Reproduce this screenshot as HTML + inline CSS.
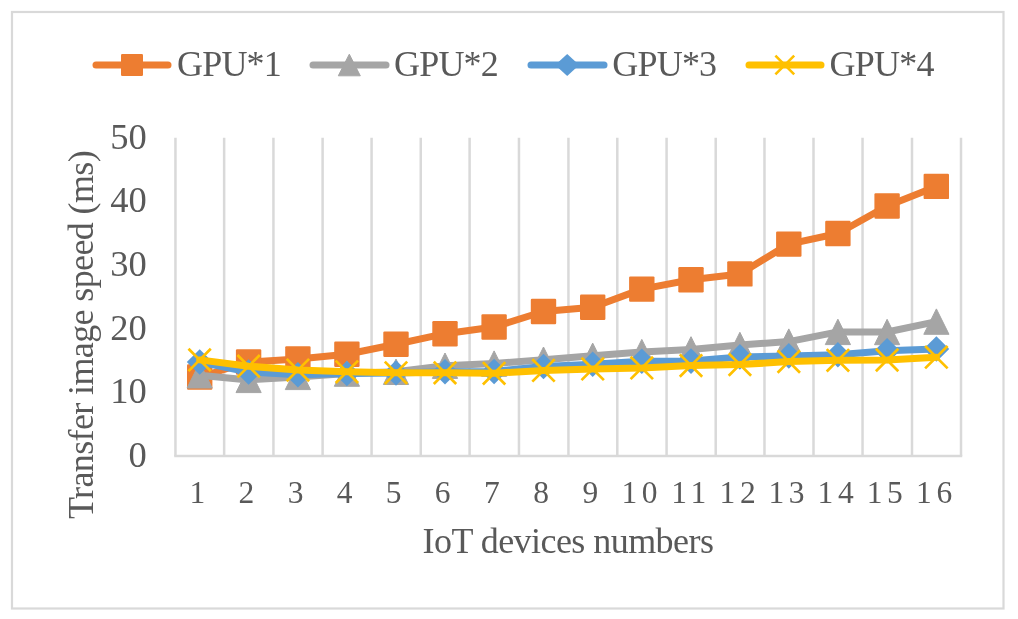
<!DOCTYPE html>
<html><head><meta charset="utf-8"><style>
html,body{margin:0;padding:0;background:#fff;}
svg{display:block;will-change:transform;filter:blur(0.4px);}
</style></head><body>
<svg width="1018" height="619" viewBox="0 0 1018 619">
<rect x="12" y="12" width="991.5" height="596.5" fill="#fff" stroke="#D9D9D9" stroke-width="2.2"/>
<line x1="175.45" y1="137.8" x2="175.45" y2="456" stroke="#D9D9D9" stroke-width="2.5"/>
<line x1="224.15" y1="137.8" x2="224.15" y2="456" stroke="#D9D9D9" stroke-width="2.5"/>
<line x1="273.43" y1="137.8" x2="273.43" y2="456" stroke="#D9D9D9" stroke-width="2.5"/>
<line x1="322.60" y1="137.8" x2="322.60" y2="456" stroke="#D9D9D9" stroke-width="2.5"/>
<line x1="371.58" y1="137.8" x2="371.58" y2="456" stroke="#D9D9D9" stroke-width="2.5"/>
<line x1="420.75" y1="137.8" x2="420.75" y2="456" stroke="#D9D9D9" stroke-width="2.5"/>
<line x1="469.60" y1="137.8" x2="469.60" y2="456" stroke="#D9D9D9" stroke-width="2.5"/>
<line x1="518.96" y1="137.8" x2="518.96" y2="456" stroke="#D9D9D9" stroke-width="2.5"/>
<line x1="568.43" y1="137.8" x2="568.43" y2="456" stroke="#D9D9D9" stroke-width="2.5"/>
<line x1="617.30" y1="137.8" x2="617.30" y2="456" stroke="#D9D9D9" stroke-width="2.5"/>
<line x1="666.58" y1="137.8" x2="666.58" y2="456" stroke="#D9D9D9" stroke-width="2.5"/>
<line x1="715.70" y1="137.8" x2="715.70" y2="456" stroke="#D9D9D9" stroke-width="2.5"/>
<line x1="764.47" y1="137.8" x2="764.47" y2="456" stroke="#D9D9D9" stroke-width="2.5"/>
<line x1="813.50" y1="137.8" x2="813.50" y2="456" stroke="#D9D9D9" stroke-width="2.5"/>
<line x1="862.54" y1="137.8" x2="862.54" y2="456" stroke="#D9D9D9" stroke-width="2.5"/>
<line x1="912.00" y1="137.8" x2="912.00" y2="456" stroke="#D9D9D9" stroke-width="2.5"/>
<line x1="961.00" y1="137.8" x2="961.00" y2="456" stroke="#D9D9D9" stroke-width="2.5"/>
<line x1="174.20" y1="456" x2="962.25" y2="456" stroke="#D9D9D9" stroke-width="2.5"/>
<polyline points="199.7,377.0 248.6,362.0 297.9,359.0 346.9,354.2 396.0,344.2 445.0,333.7 494.1,327.0 543.5,311.5 592.7,307.3 641.8,289.1 691.0,279.7 739.9,273.9 788.8,244.1 837.9,233.5 887.1,206.0 936.4,186.4" fill="none" stroke="#ED7D31" stroke-width="7" stroke-linejoin="round" stroke-linecap="round"/>
<rect x="187.0" y="364.3" width="25.4" height="25.4" rx="1.2" fill="#ED7D31"/>
<rect x="235.9" y="349.3" width="25.4" height="25.4" rx="1.2" fill="#ED7D31"/>
<rect x="285.2" y="346.3" width="25.4" height="25.4" rx="1.2" fill="#ED7D31"/>
<rect x="334.2" y="341.5" width="25.4" height="25.4" rx="1.2" fill="#ED7D31"/>
<rect x="383.3" y="331.5" width="25.4" height="25.4" rx="1.2" fill="#ED7D31"/>
<rect x="432.3" y="321.0" width="25.4" height="25.4" rx="1.2" fill="#ED7D31"/>
<rect x="481.4" y="314.3" width="25.4" height="25.4" rx="1.2" fill="#ED7D31"/>
<rect x="530.8" y="298.8" width="25.4" height="25.4" rx="1.2" fill="#ED7D31"/>
<rect x="580.0" y="294.6" width="25.4" height="25.4" rx="1.2" fill="#ED7D31"/>
<rect x="629.1" y="276.4" width="25.4" height="25.4" rx="1.2" fill="#ED7D31"/>
<rect x="678.3" y="267.0" width="25.4" height="25.4" rx="1.2" fill="#ED7D31"/>
<rect x="727.2" y="261.2" width="25.4" height="25.4" rx="1.2" fill="#ED7D31"/>
<rect x="776.1" y="231.4" width="25.4" height="25.4" rx="1.2" fill="#ED7D31"/>
<rect x="825.2" y="220.8" width="25.4" height="25.4" rx="1.2" fill="#ED7D31"/>
<rect x="874.4" y="193.3" width="25.4" height="25.4" rx="1.2" fill="#ED7D31"/>
<rect x="923.6" y="173.7" width="25.4" height="25.4" rx="1.2" fill="#ED7D31"/>
<polyline points="199.7,375.3 248.6,379.9 297.9,376.9 346.9,373.6 396.0,371.8 445.0,365.7 494.1,363.6 543.5,359.7 592.7,355.8 641.8,352.1 691.0,349.4 739.9,345.0 788.8,341.6 837.9,331.9 887.1,332.0 936.4,321.6" fill="none" stroke="#A5A5A5" stroke-width="7" stroke-linejoin="round" stroke-linecap="round"/>
<path d="M199.7,362.6 L212.2,388.0 L187.1,388.0 Z" fill="#A5A5A5" stroke="#A5A5A5" stroke-width="1" stroke-linejoin="round"/>
<path d="M248.6,367.2 L261.2,392.6 L236.0,392.6 Z" fill="#A5A5A5" stroke="#A5A5A5" stroke-width="1" stroke-linejoin="round"/>
<path d="M297.9,364.2 L310.5,389.6 L285.3,389.6 Z" fill="#A5A5A5" stroke="#A5A5A5" stroke-width="1" stroke-linejoin="round"/>
<path d="M346.9,360.9 L359.5,386.3 L334.3,386.3 Z" fill="#A5A5A5" stroke="#A5A5A5" stroke-width="1" stroke-linejoin="round"/>
<path d="M396.0,359.1 L408.6,384.5 L383.4,384.5 Z" fill="#A5A5A5" stroke="#A5A5A5" stroke-width="1" stroke-linejoin="round"/>
<path d="M445.0,353.0 L457.6,378.4 L432.4,378.4 Z" fill="#A5A5A5" stroke="#A5A5A5" stroke-width="1" stroke-linejoin="round"/>
<path d="M494.1,350.9 L506.7,376.3 L481.5,376.3 Z" fill="#A5A5A5" stroke="#A5A5A5" stroke-width="1" stroke-linejoin="round"/>
<path d="M543.5,347.0 L556.1,372.4 L530.9,372.4 Z" fill="#A5A5A5" stroke="#A5A5A5" stroke-width="1" stroke-linejoin="round"/>
<path d="M592.7,343.1 L605.3,368.5 L580.1,368.5 Z" fill="#A5A5A5" stroke="#A5A5A5" stroke-width="1" stroke-linejoin="round"/>
<path d="M641.8,339.4 L654.4,364.8 L629.2,364.8 Z" fill="#A5A5A5" stroke="#A5A5A5" stroke-width="1" stroke-linejoin="round"/>
<path d="M691.0,336.7 L703.6,362.1 L678.4,362.1 Z" fill="#A5A5A5" stroke="#A5A5A5" stroke-width="1" stroke-linejoin="round"/>
<path d="M739.9,332.3 L752.5,357.7 L727.3,357.7 Z" fill="#A5A5A5" stroke="#A5A5A5" stroke-width="1" stroke-linejoin="round"/>
<path d="M788.8,328.9 L801.4,354.3 L776.2,354.3 Z" fill="#A5A5A5" stroke="#A5A5A5" stroke-width="1" stroke-linejoin="round"/>
<path d="M837.9,319.2 L850.5,344.6 L825.3,344.6 Z" fill="#A5A5A5" stroke="#A5A5A5" stroke-width="1" stroke-linejoin="round"/>
<path d="M887.1,319.3 L899.7,344.7 L874.5,344.7 Z" fill="#A5A5A5" stroke="#A5A5A5" stroke-width="1" stroke-linejoin="round"/>
<path d="M936.4,308.9 L949.0,334.3 L923.8,334.3 Z" fill="#A5A5A5" stroke="#A5A5A5" stroke-width="1" stroke-linejoin="round"/>
<polyline points="199.7,362.0 248.6,372.0 297.9,374.8 346.9,373.5 396.0,373.0 445.0,371.8 494.1,371.5 543.5,366.5 592.7,364.2 641.8,361.3 691.0,361.1 739.9,356.9 788.8,355.9 837.9,354.8 887.1,350.7 936.4,349.0" fill="none" stroke="#5B9BD5" stroke-width="7" stroke-linejoin="round" stroke-linecap="round"/>
<path d="M199.7,349.2 L212.5,362.0 L199.7,374.8 L186.8,362.0 Z" fill="#5B9BD5"/>
<path d="M248.6,359.2 L261.5,372.0 L248.6,384.8 L235.8,372.0 Z" fill="#5B9BD5"/>
<path d="M297.9,362.0 L310.7,374.8 L297.9,387.6 L285.0,374.8 Z" fill="#5B9BD5"/>
<path d="M346.9,360.7 L359.8,373.5 L346.9,386.3 L334.1,373.5 Z" fill="#5B9BD5"/>
<path d="M396.0,360.2 L408.9,373.0 L396.0,385.8 L383.2,373.0 Z" fill="#5B9BD5"/>
<path d="M445.0,359.0 L457.9,371.8 L445.0,384.6 L432.2,371.8 Z" fill="#5B9BD5"/>
<path d="M494.1,358.7 L507.0,371.5 L494.1,384.3 L481.3,371.5 Z" fill="#5B9BD5"/>
<path d="M543.5,353.7 L556.4,366.5 L543.5,379.3 L530.7,366.5 Z" fill="#5B9BD5"/>
<path d="M592.7,351.4 L605.6,364.2 L592.7,377.0 L579.9,364.2 Z" fill="#5B9BD5"/>
<path d="M641.8,348.5 L654.6,361.3 L641.8,374.1 L628.9,361.3 Z" fill="#5B9BD5"/>
<path d="M691.0,348.3 L703.8,361.1 L691.0,373.9 L678.1,361.1 Z" fill="#5B9BD5"/>
<path d="M739.9,344.1 L752.8,356.9 L739.9,369.7 L727.1,356.9 Z" fill="#5B9BD5"/>
<path d="M788.8,343.1 L801.7,355.9 L788.8,368.7 L776.0,355.9 Z" fill="#5B9BD5"/>
<path d="M837.9,342.0 L850.7,354.8 L837.9,367.6 L825.0,354.8 Z" fill="#5B9BD5"/>
<path d="M887.1,337.9 L900.0,350.7 L887.1,363.5 L874.3,350.7 Z" fill="#5B9BD5"/>
<path d="M936.4,336.2 L949.2,349.0 L936.4,361.8 L923.5,349.0 Z" fill="#5B9BD5"/>
<polyline points="199.7,359.9 248.6,366.2 297.9,370.1 346.9,371.8 396.0,372.8 445.0,372.8 494.1,373.3 543.5,370.4 592.7,368.9 641.8,367.9 691.0,365.6 739.9,364.6 788.8,361.6 837.9,360.3 887.1,360.0 936.4,357.2" fill="none" stroke="#FFC000" stroke-width="7" stroke-linejoin="round" stroke-linecap="round"/>
<path d="M188.5,348.7 L210.8,371.1 M210.8,348.7 L188.5,371.1" stroke="#FFC000" stroke-width="2.7" fill="none"/>
<path d="M237.4,355.0 L259.8,377.4 M259.8,355.0 L237.4,377.4" stroke="#FFC000" stroke-width="2.7" fill="none"/>
<path d="M286.7,358.9 L309.1,381.3 M309.1,358.9 L286.7,381.3" stroke="#FFC000" stroke-width="2.7" fill="none"/>
<path d="M335.7,360.6 L358.1,383.0 M358.1,360.6 L335.7,383.0" stroke="#FFC000" stroke-width="2.7" fill="none"/>
<path d="M384.8,361.6 L407.2,384.0 M407.2,361.6 L384.8,384.0" stroke="#FFC000" stroke-width="2.7" fill="none"/>
<path d="M433.8,361.6 L456.2,384.0 M456.2,361.6 L433.8,384.0" stroke="#FFC000" stroke-width="2.7" fill="none"/>
<path d="M482.9,362.1 L505.3,384.5 M505.3,362.1 L482.9,384.5" stroke="#FFC000" stroke-width="2.7" fill="none"/>
<path d="M532.3,359.2 L554.7,381.6 M554.7,359.2 L532.3,381.6" stroke="#FFC000" stroke-width="2.7" fill="none"/>
<path d="M581.5,357.7 L603.9,380.1 M603.9,357.7 L581.5,380.1" stroke="#FFC000" stroke-width="2.7" fill="none"/>
<path d="M630.6,356.7 L653.0,379.1 M653.0,356.7 L630.6,379.1" stroke="#FFC000" stroke-width="2.7" fill="none"/>
<path d="M679.8,354.4 L702.2,376.8 M702.2,354.4 L679.8,376.8" stroke="#FFC000" stroke-width="2.7" fill="none"/>
<path d="M728.7,353.4 L751.1,375.8 M751.1,353.4 L728.7,375.8" stroke="#FFC000" stroke-width="2.7" fill="none"/>
<path d="M777.6,350.4 L800.0,372.8 M800.0,350.4 L777.6,372.8" stroke="#FFC000" stroke-width="2.7" fill="none"/>
<path d="M826.7,349.1 L849.1,371.5 M849.1,349.1 L826.7,371.5" stroke="#FFC000" stroke-width="2.7" fill="none"/>
<path d="M875.9,348.8 L898.3,371.2 M898.3,348.8 L875.9,371.2" stroke="#FFC000" stroke-width="2.7" fill="none"/>
<path d="M925.1,346.0 L947.6,368.4 M947.6,346.0 L925.1,368.4" stroke="#FFC000" stroke-width="2.7" fill="none"/>
<line x1="96" y1="65" x2="168" y2="65" stroke="#ED7D31" stroke-width="7" stroke-linecap="round"/>
<rect x="121.0" y="54.0" width="22" height="22" rx="1.2" fill="#ED7D31"/>
<line x1="313" y1="65" x2="386" y2="65" stroke="#A5A5A5" stroke-width="7" stroke-linecap="round"/>
<path d="M349.3,54.2 L360.3,75.8 L338.3,75.8 Z" fill="#A5A5A5" stroke="#A5A5A5" stroke-width="1" stroke-linejoin="round"/>
<line x1="531" y1="65" x2="604" y2="65" stroke="#5B9BD5" stroke-width="7" stroke-linecap="round"/>
<path d="M567.2,54.0 L579.2,65.0 L567.2,76.0 L555.2,65.0 Z" fill="#5B9BD5"/>
<line x1="749" y1="65" x2="821" y2="65" stroke="#FFC000" stroke-width="7" stroke-linecap="round"/>
<path d="M775.4,55.6 L794.2,74.4 M794.2,55.6 L775.4,74.4" stroke="#FFC000" stroke-width="2.6" fill="none"/>
<text x="177.0" y="76" font-size="36" letter-spacing="-0.8" font-family="Liberation Serif" fill="#595959">GPU*1</text>
<text x="394.0" y="76" font-size="36" letter-spacing="-0.8" font-family="Liberation Serif" fill="#595959">GPU*2</text>
<text x="612.3" y="76" font-size="36" letter-spacing="-0.8" font-family="Liberation Serif" fill="#595959">GPU*3</text>
<text x="829.6" y="76" font-size="36" letter-spacing="-0.8" font-family="Liberation Serif" fill="#595959">GPU*4</text>
<text x="146.8" y="466.9" font-size="36.5" text-anchor="end" font-family="Liberation Serif" fill="#595959">0</text>
<text x="146.8" y="402.9" font-size="36.5" text-anchor="end" font-family="Liberation Serif" fill="#595959">10</text>
<text x="146.8" y="339.9" font-size="36.5" text-anchor="end" font-family="Liberation Serif" fill="#595959">20</text>
<text x="146.8" y="275.9" font-size="36.5" text-anchor="end" font-family="Liberation Serif" fill="#595959">30</text>
<text x="146.8" y="211.75" font-size="36.5" text-anchor="end" font-family="Liberation Serif" fill="#595959">40</text>
<text x="146.8" y="148.9" font-size="36.5" text-anchor="end" font-family="Liberation Serif" fill="#595959">50</text>
<text x="199.7" y="503" font-size="31.5" text-anchor="middle" letter-spacing="4.6" font-family="Liberation Serif" fill="#595959">1</text>
<text x="248.6" y="503" font-size="31.5" text-anchor="middle" letter-spacing="4.6" font-family="Liberation Serif" fill="#595959">2</text>
<text x="297.9" y="503" font-size="31.5" text-anchor="middle" letter-spacing="4.6" font-family="Liberation Serif" fill="#595959">3</text>
<text x="346.9" y="503" font-size="31.5" text-anchor="middle" letter-spacing="4.6" font-family="Liberation Serif" fill="#595959">4</text>
<text x="396.0" y="503" font-size="31.5" text-anchor="middle" letter-spacing="4.6" font-family="Liberation Serif" fill="#595959">5</text>
<text x="445.0" y="503" font-size="31.5" text-anchor="middle" letter-spacing="4.6" font-family="Liberation Serif" fill="#595959">6</text>
<text x="494.1" y="503" font-size="31.5" text-anchor="middle" letter-spacing="4.6" font-family="Liberation Serif" fill="#595959">7</text>
<text x="543.5" y="503" font-size="31.5" text-anchor="middle" letter-spacing="4.6" font-family="Liberation Serif" fill="#595959">8</text>
<text x="592.7" y="503" font-size="31.5" text-anchor="middle" letter-spacing="4.6" font-family="Liberation Serif" fill="#595959">9</text>
<text x="641.8" y="503" font-size="31.5" text-anchor="middle" letter-spacing="4.6" font-family="Liberation Serif" fill="#595959">10</text>
<text x="691.0" y="503" font-size="31.5" text-anchor="middle" letter-spacing="4.6" font-family="Liberation Serif" fill="#595959">11</text>
<text x="739.9" y="503" font-size="31.5" text-anchor="middle" letter-spacing="4.6" font-family="Liberation Serif" fill="#595959">12</text>
<text x="788.8" y="503" font-size="31.5" text-anchor="middle" letter-spacing="4.6" font-family="Liberation Serif" fill="#595959">13</text>
<text x="837.9" y="503" font-size="31.5" text-anchor="middle" letter-spacing="4.6" font-family="Liberation Serif" fill="#595959">14</text>
<text x="887.1" y="503" font-size="31.5" text-anchor="middle" letter-spacing="4.6" font-family="Liberation Serif" fill="#595959">15</text>
<text x="936.4" y="503" font-size="31.5" text-anchor="middle" letter-spacing="4.6" font-family="Liberation Serif" fill="#595959">16</text>
<text x="568" y="553" font-size="36" text-anchor="middle" letter-spacing="-0.55" font-family="Liberation Serif" fill="#595959">IoT devices numbers</text>
<text transform="translate(92.5,335) rotate(-90)" x="0" y="0" font-size="36" text-anchor="middle" letter-spacing="-0.62" font-family="Liberation Serif" fill="#595959">Transfer image speed (ms)</text>
</svg>
</body></html>
